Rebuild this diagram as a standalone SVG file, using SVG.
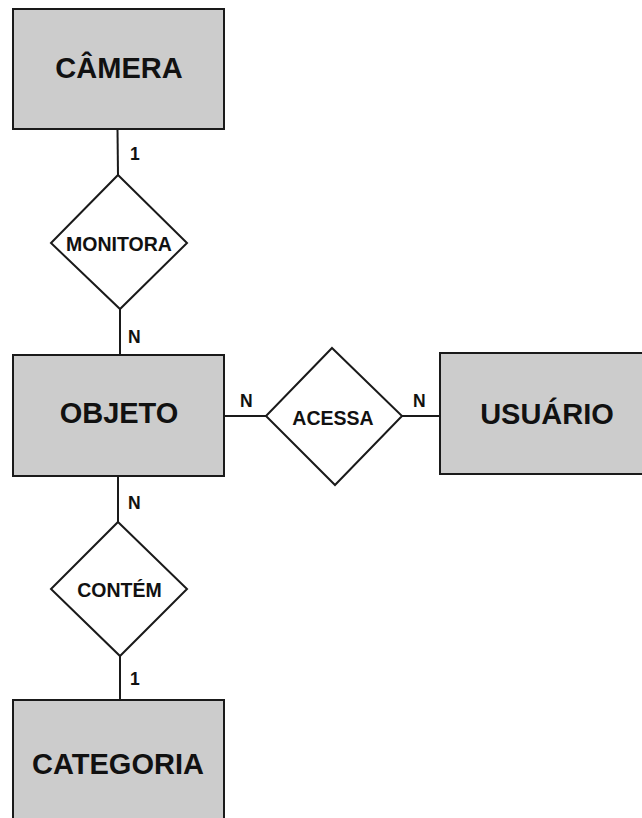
<svg xmlns="http://www.w3.org/2000/svg" width="642" height="818" viewBox="0 0 642 818">
<style>
.ent{fill:#cccccc;stroke:#1a1a1a;stroke-width:2}
.rel{fill:#ffffff;stroke:#1a1a1a;stroke-width:2}
.etx{font-family:"Liberation Sans",Arial,sans-serif;font-weight:bold;font-size:29px;fill:#111;text-anchor:middle}
.rtx{font-family:"Liberation Sans",Arial,sans-serif;font-weight:bold;font-size:19.5px;fill:#111;text-anchor:middle}
.card{font-family:"Liberation Sans",Arial,sans-serif;font-weight:bold;font-size:17.5px;fill:#111}
.con{stroke:#1a1a1a;stroke-width:2;fill:none}
</style>
<rect width="642" height="818" fill="#ffffff"/>
<g id="connectors">
<line class="con" x1="117.5" y1="129" x2="118" y2="175"/>
<line class="con" x1="120" y1="309" x2="120" y2="355"/>
<line class="con" x1="224" y1="416" x2="266" y2="416"/>
<line class="con" x1="402" y1="416" x2="440" y2="416"/>
<line class="con" x1="118" y1="476" x2="118" y2="522"/>
<line class="con" x1="120" y1="656" x2="120" y2="700"/>
<text class="card" x="130" y="160">1</text>
<text class="card" x="128" y="343">N</text>
<text class="card" x="240" y="407">N</text>
<text class="card" x="413" y="407">N</text>
<text class="card" x="128" y="509">N</text>
<text class="card" x="130" y="685">1</text>
</g>
<g id="camera">
<rect class="ent" x="13" y="9" width="211" height="120"/>
<text class="etx" x="119" y="78">CÂMERA</text>
</g>
<g id="monitora">
<polygon class="rel" points="118,175 187,243 120,309 51,243"/>
<text class="rtx" x="119" y="250.5">MONITORA</text>
</g>
<g id="objeto">
<rect class="ent" x="13" y="355" width="211" height="121"/>
<text class="etx" x="119" y="423">OBJETO</text>
</g>
<g id="acessa">
<polygon class="rel" points="332,348 402,416 335,485 266,416"/>
<text class="rtx" x="333" y="425">ACESSA</text>
</g>
<g id="usuario">
<rect class="ent" x="440" y="353" width="211" height="121"/>
<text class="etx" x="547" y="424">USUÁRIO</text>
</g>
<g id="contem">
<polygon class="rel" points="118,522 187,589 120,656 51,589"/>
<text class="rtx" x="119.5" y="597">CONTÉM</text>
</g>
<g id="categoria">
<rect class="ent" x="13" y="700" width="211" height="121"/>
<text class="etx" x="118" y="774">CATEGORIA</text>
</g>
</svg>
